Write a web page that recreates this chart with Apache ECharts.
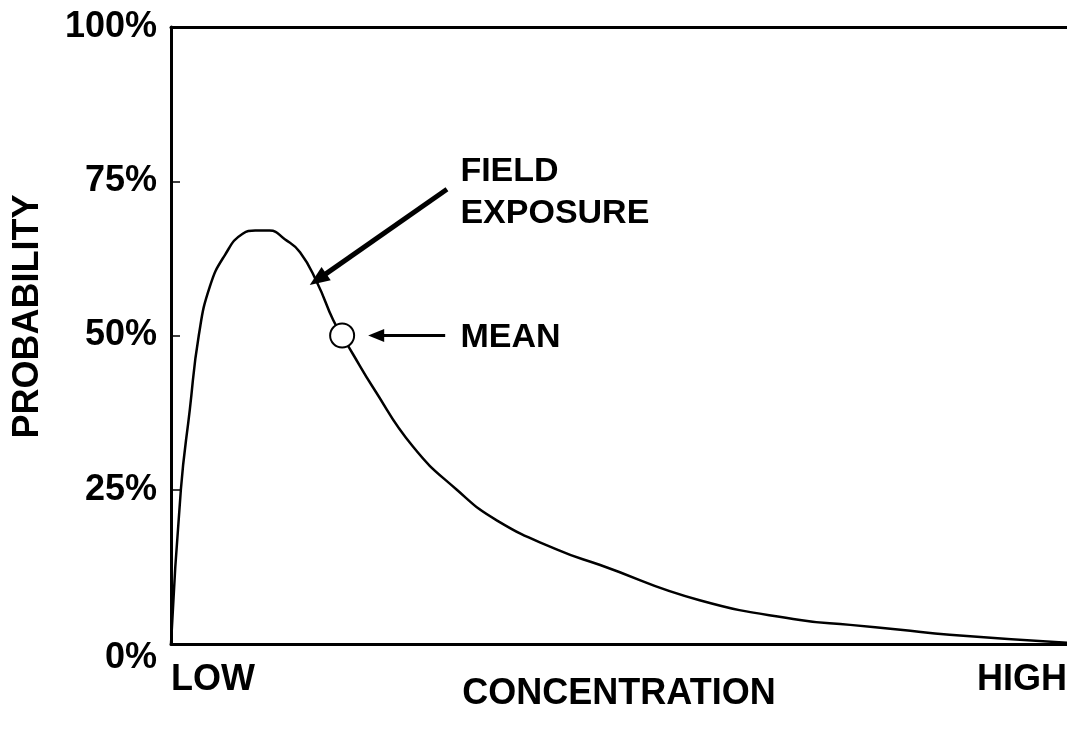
<!DOCTYPE html>
<html>
<head>
<meta charset="utf-8">
<script src="https://cdn.jsdelivr.net/npm/echarts@6/dist/echarts.min.js"></script>
<style>
  html, body { margin: 0; padding: 0; background: #fff; }
  #chart { width: 1067px; height: 738px; }
</style>
</head>
<body>
<div id="chart"></div>
<script>
// concentration (0 = LOW, 100 = HIGH) and probability (%)
const concentration = [0, 1.1, 2.1, 3.1, 4.35, 6.0, 8.0, 9.4, 11.0, 12.7, 14.4, 16.3, 18.1, 19.1, 20.3, 22.5, 27.0, 31.9, 36.4, 43.1, 47.9, 59.0, 70.2, 75.8, 81.4, 86.9, 100];
const probability   = [0, 25, 38, 50, 58, 63, 66.5, 67, 67, 65.6, 63.5, 58.6, 52.5, 50, 47, 41.7, 32, 25, 20, 15.3, 12.8, 7.1, 3.9, 3.1, 2.3, 1.5, 0.2];

const yTicks = [0, 25, 50, 75, 100];
const xTickLabels = { 0: 'LOW', 100: 'HIGH' };

// mean marker on the curve
const meanPoint = [19.1, 50];

// annotation arrows: [from, to] in data units
const fieldArrow = [[30.8, 73.7], [16.4, 59.1]];
const meanArrow = [[30.6, 50], [22.9, 50]];

// annotation texts: [x, y, text]
const notes = [
  [32.3, 73.2, 'FIELD\nEXPOSURE'],
  [32.3, 49.6, 'MEAN']
];

const FONT = '"Liberation Sans", Arial, Helvetica, sans-serif';

const chart = echarts.init(document.getElementById('chart'));

const curve = concentration.map((c, i) => [c, probability[i]]);

chart.setOption({
  backgroundColor: '#fff',
  animation: false,
  grid: { left: 171, right: 0, top: 27, bottom: 94, containLabel: false, outerBoundsMode: 'none' },
  xAxis: [
    {
      type: 'value',
      min: 0,
      max: 100,
      interval: 100,
      name: 'CONCENTRATION',
      nameLocation: 'middle',
      nameGap: 32,
      nameMoveOverlap: false,
      nameTextStyle: { fontFamily: FONT, fontWeight: 'bold', fontSize: 36, color: '#000' },
      axisLine: { show: true, lineStyle: { color: '#000', width: 3 } },
      axisTick: { show: false },
      splitLine: { show: false },
      axisLabel: {
        margin: 18,
        fontFamily: FONT, fontWeight: 'bold', fontSize: 36, color: '#000',
        alignMinLabel: 'left',
        alignMaxLabel: 'right',
        formatter: v => xTickLabels[v] || ''
      }
    },
    {
      type: 'value',
      position: 'top',
      min: 0,
      max: 100,
      axisLine: { show: true, lineStyle: { color: '#000', width: 3 } },
      axisTick: { show: false },
      axisLabel: { show: false },
      splitLine: { show: false }
    }
  ],
  yAxis: {
    type: 'value',
    min: yTicks[0],
    max: yTicks[yTicks.length - 1],
    interval: 25,
    name: 'PROBABILITY',
    nameLocation: 'middle',
    nameGap: 125,
    nameMoveOverlap: false,
    nameTextStyle: { fontFamily: FONT, fontWeight: 'bold', fontSize: 36, color: '#000', padding: [0, 0, 0, 38] },
    axisLine: { show: true, lineStyle: { color: '#000', width: 3 } },
    axisTick: { show: true, inside: true, length: 9, lineStyle: { color: '#000', width: 1.5 } },
    splitLine: { show: false },
    axisLabel: {
      margin: 14,
      fontFamily: FONT, fontWeight: 'bold', fontSize: 36, color: '#000',
      formatter: v => v === 0 ? '{low|0%}' : v + '%',
      rich: { low: { fontFamily: FONT, fontWeight: 'bold', fontSize: 36, color: '#000', padding: [28, 0, 0, 0] } }
    }
  },
  series: [
    {
      name: 'Field exposure',
      type: 'line',
      data: curve,
      smooth: 0.5,
      showSymbol: false,
      lineStyle: { color: '#000', width: 2.5 },
      z: 2
    },
    {
      name: 'Mean',
      type: 'scatter',
      data: [meanPoint],
      symbol: 'circle',
      symbolSize: 24,
      itemStyle: { color: '#fff', borderColor: '#000', borderWidth: 2, opacity: 1 },
      z: 4,
      markLine: {
        silent: true,
        animation: false,
        symbol: ['none', 'triangle'],
        label: { show: false },
        data: [
          [
            { coord: fieldArrow[0], lineStyle: { width: 5 }, symbolSize: 0 },
            { coord: fieldArrow[1], symbolSize: [16, 20] }
          ],
          [
            { coord: meanArrow[0], lineStyle: { width: 3 }, symbolSize: 0 },
            { coord: meanArrow[1], symbolSize: [13, 16] }
          ]
        ],
        lineStyle: { color: '#000', type: 'solid', opacity: 1 },
        itemStyle: { color: '#000', opacity: 1 }
      }
    },
    {
      name: 'Notes',
      type: 'scatter',
      data: notes,
      symbolSize: 0,
      silent: true,
      itemStyle: { opacity: 1 },
      label: {
        show: true,
        position: 'right',
        distance: 0,
        formatter: p => p.value[2],
        fontFamily: FONT, fontWeight: 'bold', fontSize: 34, color: '#000',
        opacity: 1,
        lineHeight: 42,
        align: 'left',
        verticalAlign: 'middle'
      }
    }
  ]
});
</script>
</body>
</html>
